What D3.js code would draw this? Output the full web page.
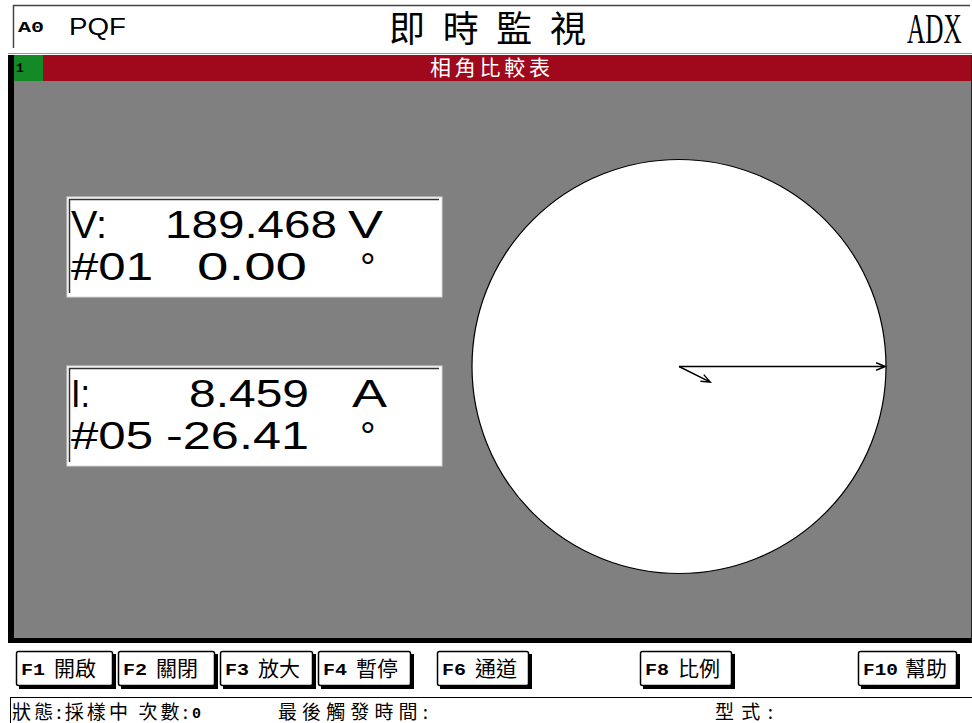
<!DOCTYPE html>
<html>
<head>
<meta charset="utf-8">
<script src="https://cdn.jsdelivr.net/npm/d3@7/dist/d3.min.js"></script>
<style>
  body { margin: 0; background: #fff; }
  svg { display: block; }
</style>
</head>
<body>
<div id="monitor"></div>
<script>
'use strict'

// phasor readings
var channelNames = ['V:', 'I:'];
var channelIds = ['#01', '#05'];
var magnitudes = [189.468, 8.459];
var unitLabels = ['V', 'A'];
var phaseAngles = [0.00, -26.41];
var fullScale = [190, 50];

// screen texts
var screenTitle = '即時監視';
var panelTitle = '相角比較表';
var deviceName = 'PQF';
var deviceId = 'A0';
var modelName = 'ADX';
var panelNo = '1';
var keyNames = ['F1', 'F2', 'F3', 'F4', 'F6', 'F8', 'F10'];
var keyLabels = ['開啟', '關閉', '放大', '暫停', '通道', '比例', '幫助'];
var statusLabels = ['狀態:採樣中 次數:', '最後觸發時間:', '型式:'];
var triggerCount = 0;

var CJK = '"Noto Sans CJK TC", "Noto Sans CJK SC", sans-serif';
var SANS = '"Liberation Sans", Arial, sans-serif';
var MONO = '"Liberation Mono", "DejaVu Sans Mono", monospace';

var app = {
  init: function() {
    this.width = 972;
    this.height = 723;

    this.svg = d3.select('#monitor').append('svg')
      .attr('width', app.width)
      .attr('height', app.height);

    app.drawHeader();
    app.drawPanel();
    app.drawReadouts();
    app.drawPhasors();
    app.drawKeys();
    app.drawStatus();
  },

  drawHeader: function() {
    var g = app.svg.append('g').attr('id', 'header');

    g.append('line')
      .attr('x1', 13).attr('x2', 970).attr('y1', 5.5).attr('y2', 5.5)
      .attr('style', 'stroke: #444; stroke-width: 1.5;');
    g.append('line')
      .attr('x1', 13.5).attr('x2', 13.5).attr('y1', 5).attr('y2', 48)
      .attr('style', 'stroke: #444; stroke-width: 1.5;');

    g.append('text')
      .attr('x', 18).attr('y', 32)
      .attr('font-family', MONO).attr('font-weight', 'bold').attr('font-size', 14)
      .attr('textLength', 26).attr('lengthAdjust', 'spacingAndGlyphs')
      .text(deviceId);

    g.append('text')
      .attr('x', 69).attr('y', 35)
      .attr('font-family', SANS).attr('font-size', 23)
      .attr('textLength', 57).attr('lengthAdjust', 'spacingAndGlyphs')
      .text(deviceName);

    g.append('text')
      .attr('x', 389).attr('y', 42)
      .attr('font-family', CJK).attr('font-size', 36)
      .attr('textLength', 197).attr('lengthAdjust', 'spacing')
      .text(screenTitle);

    // condensed serif model name
    g.append('text')
      .attr('transform', 'translate(907, 43) scale(0.6, 1)')
      .attr('font-family', '"Liberation Serif", serif').attr('font-size', 42)
      .text(modelName);
  },

  drawPanel: function() {
    var g = app.svg.append('g').attr('id', 'panel');

    g.append('line')
      .attr('x1', 8).attr('x2', 972).attr('y1', 53.5).attr('y2', 53.5)
      .attr('style', 'stroke: #999; stroke-width: 1;');

    g.append('rect')
      .attr('x', 14).attr('y', 55).attr('width', 958).attr('height', 26)
      .attr('fill', '#a0081c');
    g.append('rect')
      .attr('x', 14).attr('y', 55).attr('width', 29).attr('height', 26)
      .attr('fill', '#138a25');
    g.append('text')
      .attr('x', 16).attr('y', 72)
      .attr('font-family', MONO).attr('font-weight', 'bold').attr('font-size', 13)
      .text(panelNo);
    g.append('text')
      .attr('x', 430).attr('y', 75)
      .attr('font-family', CJK).attr('font-size', 21)
      .attr('textLength', 120).attr('lengthAdjust', 'spacing')
      .attr('fill', '#fff')
      .text(panelTitle);

    g.append('rect')
      .attr('x', 14).attr('y', 81).attr('width', 957).attr('height', 557)
      .attr('fill', '#808080');

    // frame
    g.append('rect')
      .attr('x', 8).attr('y', 55).attr('width', 6).attr('height', 588)
      .attr('fill', '#000');
    g.append('rect')
      .attr('x', 8).attr('y', 638).attr('width', 964).attr('height', 5)
      .attr('fill', '#000');
    g.append('rect')
      .attr('x', 971).attr('y', 55).attr('width', 1).attr('height', 588)
      .attr('fill', '#222');
  },

  drawReadouts: function() {
    var boxTop = [197, 366];
    // column left edges and widths inside each box (relative to box x = 67)
    var nameW = [36, 19];
    var magX = [98, 122], magW = [172, 120];
    var unitX = [281, 285], unitW = [35, 35];
    var idW = [82, 82];
    var angX = [130, 99], angW = [110, 143];

    var boxes = app.svg.append('g').attr('id', 'readouts')
      .selectAll('g')
      .data(channelNames)
      .enter()
      .append('g')
      .attr('transform', function(d, i) { return 'translate(67, ' + boxTop[i] + ')'; });

    boxes.append('rect')
      .attr('width', 375).attr('height', 100)
      .attr('fill', '#fff')
      .attr('style', 'stroke: #d8d8d8; stroke-width: 1;');
    boxes.append('path')
      .attr('d', 'M2.5,96 V2.5 H372')
      .attr('style', 'stroke: #333; stroke-width: 1.5; fill: none;');

    var txt = function(sel, y) {
      return sel.append('text')
        .attr('y', y)
        .attr('font-family', SANS)
        .attr('font-size', 39)
        .attr('lengthAdjust', 'spacingAndGlyphs')
        .attr('fill', '#000');
    };

    txt(boxes, 41).attr('x', 4)
      .attr('textLength', function(d, i) { return nameW[i]; })
      .text(function(d) { return d; });
    txt(boxes, 41).attr('x', function(d, i) { return magX[i]; })
      .attr('textLength', function(d, i) { return magW[i]; })
      .text(function(d, i) { return magnitudes[i].toFixed(3); });
    txt(boxes, 41).attr('x', function(d, i) { return unitX[i]; })
      .attr('textLength', function(d, i) { return unitW[i]; })
      .text(function(d, i) { return unitLabels[i]; });
    txt(boxes, 83).attr('x', 4)
      .attr('textLength', function(d, i) { return idW[i]; })
      .text(function(d, i) { return channelIds[i]; });
    txt(boxes, 83).attr('x', function(d, i) { return angX[i]; })
      .attr('textLength', function(d, i) { return angW[i]; })
      .text(function(d, i) { return phaseAngles[i].toFixed(2); });
    boxes.append('text')
      .attr('x', 293).attr('y', 83)
      .attr('font-family', SANS).attr('font-size', 39)
      .text('°');
  },

  drawPhasors: function() {
    var cx = 679, cy = 366.5, r = 207;

    var g = app.svg.append('g')
      .attr('id', 'phasors')
      .attr('transform', 'translate(' + cx + ', ' + cy + ')');

    g.append('circle')
      .attr('r', r)
      .attr('fill', '#fff')
      .attr('style', 'stroke: #000; stroke-width: 1.2;');

    var angle = d3.scaleLinear().domain([0, 360]).range([0, 2 * Math.PI]);
    var lengths = fullScale.map(function(m) {
      return d3.scaleLinear().domain([0, m]).range([0, r]);
    });

    var head = 10, spread = angle(22);
    var arrowPath = function(d, i) {
      var len = lengths[i](magnitudes[i]);
      var a = -angle(phaseAngles[i]);
      var x = len * Math.cos(a), y = len * Math.sin(a);
      var p = d3.path();
      p.moveTo(0, 0);
      p.lineTo(x, y);
      p.moveTo(x - head * Math.cos(a - spread), y - head * Math.sin(a - spread));
      p.lineTo(x, y);
      p.lineTo(x - head * Math.cos(a + spread), y - head * Math.sin(a + spread));
      return p.toString();
    };

    g.selectAll('path.phasor')
      .data(channelNames)
      .enter()
      .append('path')
      .attr('class', 'phasor')
      .attr('d', arrowPath)
      .attr('style', 'stroke: #000; stroke-width: 1.4; fill: none;');
  },

  drawKeys: function() {
    var keyLeft = [16, 118, 220, 318, 437, 640, 858];
    var keyWidth = [98, 98, 94, 94, 93, 93, 100];
    var top = 651, h = 36;

    var keys = app.svg.append('g').attr('id', 'keys')
      .selectAll('g')
      .data(keyNames)
      .enter()
      .append('g')
      .attr('transform', function(d, i) { return 'translate(' + keyLeft[i] + ', ' + top + ')'; });

    keys.append('path')
      .attr('d', function(d, i) {
        var w = keyWidth[i];
        return 'M3,' + h + ' H' + w + ' V3';
      })
      .attr('style', 'stroke: #000; stroke-width: 4; fill: none;');
    keys.append('rect')
      .attr('x', 0.5).attr('y', 0.5)
      .attr('width', function(d, i) { return keyWidth[i] - 2; })
      .attr('height', h - 2)
      .attr('rx', 2)
      .attr('fill', '#fff')
      .attr('style', 'stroke: #000; stroke-width: 1.5;');

    keys.append('text')
      .attr('x', 5).attr('y', 24)
      .attr('font-family', MONO).attr('font-weight', 'bold').attr('font-size', 16)
      .attr('textLength', function(d) { return d.length > 2 ? 35 : 24; })
      .attr('lengthAdjust', 'spacingAndGlyphs')
      .text(function(d) { return d; });
    keys.append('text')
      .attr('x', function(d) { return d.length > 2 ? 47 : 38; })
      .attr('y', 25)
      .attr('font-family', CJK).attr('font-size', 21)
      .text(function(d, i) { return keyLabels[i]; });
  },

  drawStatus: function() {
    var g = app.svg.append('g').attr('id', 'status');
    var labelX = [12, 278, 715];
    var labelW = [176, 150, 58];

    g.append('line')
      .attr('x1', 10).attr('x2', 972).attr('y1', 697.5).attr('y2', 697.5)
      .attr('style', 'stroke: #000; stroke-width: 1;');
    g.append('line')
      .attr('x1', 10.5).attr('x2', 10.5).attr('y1', 697).attr('y2', 723)
      .attr('style', 'stroke: #000; stroke-width: 1;');

    g.selectAll('text.label')
      .data(statusLabels)
      .enter()
      .append('text')
      .attr('class', 'label')
      .attr('x', function(d, i) { return labelX[i]; })
      .attr('y', 719)
      .attr('font-family', CJK).attr('font-size', 19)
      .attr('textLength', function(d, i) { return labelW[i]; })
      .attr('lengthAdjust', 'spacing')
      .text(function(d) { return d; });

    g.append('text')
      .attr('x', 192).attr('y', 718)
      .attr('font-family', MONO).attr('font-weight', 'bold').attr('font-size', 15)
      .text(triggerCount);
  }
};

app.init();
</script>
</body>
</html>
